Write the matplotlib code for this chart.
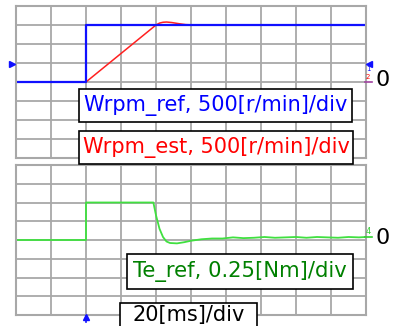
import matplotlib
matplotlib.use('Agg')
import matplotlib.pyplot as plt
from matplotlib.patches import Rectangle
from matplotlib.lines import Line2D

# scope traces, time in ms (20 ms/div, 10 div)
t_ref = [0, 40, 40, 200]
wrpm_ref = [0, 0, 1500, 1500]

t_est = [0, 40, 80, 82, 84, 86, 89, 93, 97, 103, 120, 150, 200]
wrpm_est = [0, 0, 1500, 1550, 1572, 1578, 1565, 1535, 1510, 1500, 1500, 1500, 1500]

t_te = [0, 40, 40, 78.5, 80, 82, 84, 86, 88, 92, 96, 100, 106, 112, 118, 124,
        130, 136, 142, 148, 154, 160, 166, 172, 178, 184, 190, 196, 200]
te_ref = [0, 0, 0.5, 0.5, 0.33, 0.15, 0.04, -0.02, -0.04, -0.045, -0.03, -0.01,
          0.01, 0.02, 0.02, 0.035, 0.025, 0.03, 0.04, 0.03, 0.035, 0.04, 0.03,
          0.04, 0.035, 0.03, 0.04, 0.035, 0.04]

W, H = 409, 326
fig = plt.figure(figsize=(W / 100, H / 100), dpi=100)
fig.patch.set_facecolor('white')


def fx(x):
    return x / W


def fy(y):
    return 1 - y / H


grid_c = '#a8a8a8'
ax1 = fig.add_axes([fx(16), fy(158), fx(366) - fx(16), fy(6) - fy(158)])
ax2 = fig.add_axes([fx(16), fy(315), fx(366) - fx(16), fy(165) - fy(315)])

for ax, lim, step in [(ax1, 2000, 500), (ax2, 1.0, 0.25)]:
    ax.set_xlim(0, 200)
    ax.set_ylim(-lim, lim)
    ax.set_xticks(range(0, 201, 20))
    ax.set_yticks([-lim + i * step for i in range(9)])
    ax.tick_params(length=0, labelleft=False, labelbottom=False)
    ax.grid(True, color=grid_c, lw=1.3)
    for s in ax.spines.values():
        s.set_color(grid_c)
        s.set_linewidth(1.5)

ax1.plot(t_est, wrpm_est, color='#ff2020', lw=1.1)
ax1.plot(t_ref, wrpm_ref, color='#1010ff', lw=1.6)
ax2.plot(t_te, te_ref, color='#40e040', lw=1.3)

# label boxes: left, top, right, bottom (pixels), text, colour, text centre y, size
boxes = [
    (79, 89, 352, 122, 'Wrpm_ref, 500[r/min]/div', '#0000ff', 106, 15),
    (79, 131, 353, 164, 'Wrpm_est, 500[r/min]/div', '#ff0000', 148, 15),
    (127, 254, 353, 289, 'Te_ref, 0.25[Nm]/div', '#008000', 272, 15.2),
    (120, 303, 257, 340, '20[ms]/div', 'black', 315, 15),
]
for x0, y0, x1, y1, txt, col, ty, fs in boxes:
    fig.patches.append(Rectangle((fx(x0), fy(y1)), fx(x1) - fx(x0), fy(y0) - fy(y1),
                                 transform=fig.transFigure, facecolor='white',
                                 edgecolor='black', lw=1.2, zorder=5))
    fig.text(fx((x0 + x1) / 2), fy(ty), txt, color=col, fontsize=fs,
             ha='center', va='center', zorder=6)

# zero markers
fig.text(fx(383), fy(80), '0', fontsize=16, ha='center', va='center')
fig.text(fx(383), fy(238), '0', fontsize=16, ha='center', va='center')

# channel markers
fig.lines.append(Line2D([fx(12)], [fy(64)], marker='>', color='#1010ff', ms=5,
                        transform=fig.transFigure))
fig.lines.append(Line2D([fx(369)], [fy(64)], marker='<', color='#1010ff', ms=4,
                        transform=fig.transFigure))
fig.text(fx(368), fy(69), '1', color='#1010ff', fontsize=5, ha='center', va='center')
fig.text(fx(368), fy(77), '2', color='#ff0000', fontsize=5, ha='center', va='center')
fig.lines.append(Line2D([fx(365), fx(372)], [fy(82), fy(82)], color='#a040a0', lw=1.2,
                        transform=fig.transFigure))
fig.text(fx(368), fy(231), '4', color='#30d030', fontsize=6, ha='center', va='center')
fig.lines.append(Line2D([fx(365), fx(372)], [fy(237), fy(237)], color='#30d030', lw=1.2,
                        transform=fig.transFigure))

# trigger position arrow
fig.lines.append(Line2D([fx(86), fx(86)], [fy(322), fy(316)], color='#1010ff', lw=1.2,
                        transform=fig.transFigure))
fig.lines.append(Line2D([fx(86)], [fy(317)], marker='^', color='#1010ff', ms=4,
                        transform=fig.transFigure))

fig.savefig('out.png', dpi=100)
